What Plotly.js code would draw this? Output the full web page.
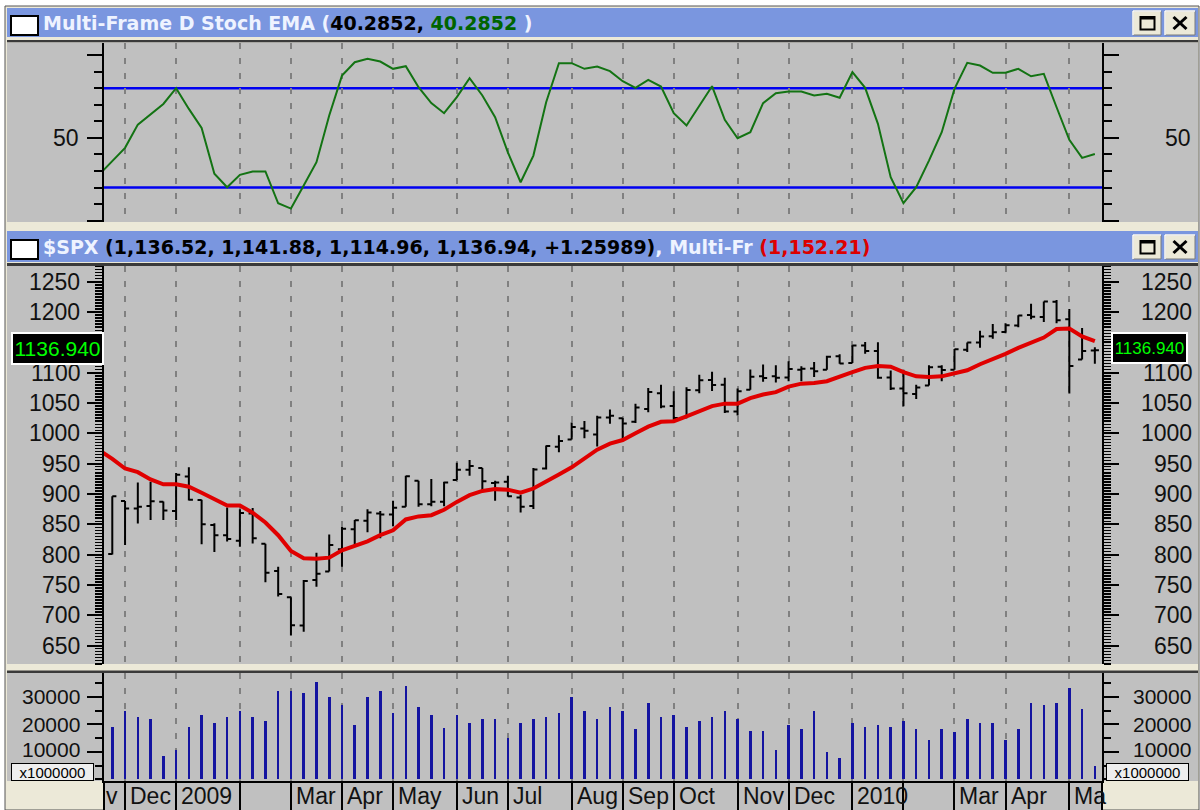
<!DOCTYPE html>
<html><head><meta charset="utf-8">
<script src="https://cdn.plot.ly/plotly-3.0.1.min.js"></script>
<style>html,body{margin:0;padding:0;background:#fff;}#chart{width:1200px;height:810px;}</style>
</head><body><div id="chart"></div>
<script>
// ---------- DATA (weekly, $SPX, weeks ending Nov 28 2008 .. May 21 2010) ----------
const opens  = [801,888.6,876,880,887,872,929,890,849,832,823,868,818,773,729.6,683,758,772,809,842,856,868,866,879,922,883,887,923,940,943,918,920,894,880,942,978,990,1008,998,1026,1025,1019,1040,1066,1045,1026,1071,1088,1080,1036,1072,1094,1094,1092,1105,1107,1105,1127,1116,1145,1136,1092,1074,1065,1079,1110,1105,1138,1150,1160,1167,1178,1195,1192,1217,1188,1122,1136.52];
const highs  = [896.2,888.6,918.9,920,887.4,934.7,943.9,890.4,851.6,877.9,875,877,818,780,729.6,758.3,803,833,845.6,856.9,875,871.8,888.7,930.2,922,924.6,920,951.7,956.2,943,922,930.2,898.7,943,979.8,996.7,1018,1020.4,1029,1039.5,1025.2,1049,1074.8,1080.2,1069.6,1076,1096.6,1101.4,1091.8,1074,1105.4,1113.7,1112.4,1119.1,1110.7,1117.7,1128,1130.4,1145.4,1150.5,1150.4,1103.7,1104.7,1080,1112.4,1112.3,1139,1150,1169.2,1180.2,1181.4,1194.7,1213.9,1217.3,1219.8,1205,1173.6,1141.88];
const lows   = [800,815.7,851.4,857,857.1,857,889.4,817,804.3,821.7,812.9,818.4,754.3,731,666.8,672.9,747,772,779.8,814.5,836.9,826.8,847,878.9,878.9,879.6,879.6,923,930,903.8,888.9,896,869.3,875.3,940.2,968.7,990,992,978.5,1016,991,1017,1035,1041.2,1020,1025,1066,1070,1033.4,1029.4,1072,1085,1083.7,1086,1085.9,1093,1105,1114.8,1116,1131.4,1090.2,1071.6,1044.5,1056.5,1079,1086,1105,1134,1141,1156,1165,1175,1188,1183.7,1181.6,1065.8,1122,1114.96];
const closes = [896.2,876.1,879.1,887.9,872.8,931.8,890.4,850.1,832,825.9,868.6,826.8,770.1,735.1,683.4,756.6,768.5,815.9,842.5,856.6,869.6,866.2,877.5,929.2,882.9,887,919.1,940.1,946.2,921.2,918.9,896.4,879.1,940.4,979.3,987.5,1010.5,1004.1,1026.1,1028.9,1016.4,1042.7,1068.3,1044.4,1025.2,1071.5,1087.7,1079.6,1036.2,1069.3,1093.5,1091.4,1091.5,1106,1106.4,1102.5,1126.5,1115.1,1145,1136,1091.8,1073.9,1066.2,1075.5,1109.2,1104.5,1138.7,1150,1159.9,1166.6,1178.1,1194.4,1192.1,1217.3,1186.7,1110.9,1135.7,1136.94];
const volumes = [19150,24900,22700,22100,8540,10600,19150,23500,20600,22700,24900,22700,21350,32000,32000,31350,35600,29900,27100,19900,29900,32000,24150,34150,26350,23500,18550,23500,20600,22100,22100,14900,20600,22100,22700,24300,29900,24900,22100,26350,24900,18400,27800,22700,23400,19150,21350,22700,24900,21950,17700,17700,10600,19900,18400,24900,9900,7800,20600,19150,19900,19150,21350,18400,14150,18400,17100,21950,20600,20600,14150,18400,27800,27100,27800,33400,25600,4900];
// indicator series start one week earlier (week ending Nov 21 2008, clipped at left edge)
const multiFrameEma = [972,958,942,936,924,916,916,912,902,892,881,881,869,853,832,806,794,793,795,807,814,822,832,840,858,863,865,874,887,898,905,908,907,902,909,920,932,944,959,973,983,989,1000,1011,1019,1020,1028,1037,1045,1049,1049,1058,1064,1068,1077,1082,1083,1086,1094,1101,1108,1111,1110,1101,1094,1093,1094,1099,1104,1114,1122,1131,1141,1150,1158,1172,1173,1160,1152.21];
const stochD = [28,36,44,58,64,70.5,80,67.5,56,28.3,20.2,27.7,29.7,29.7,10.5,7.3,21.2,35.3,63.5,87.6,95.7,97.7,96.1,91.7,93.3,80.6,71,64.9,74.6,86,75.6,62.5,41.3,23.2,39.3,71.5,95.1,95.1,91.7,93.1,90.3,84.2,80.2,85,81,64.9,57.5,69.5,81.2,60.9,49.8,53.4,71,77,78,78,75.6,76.6,74.2,89.7,80.2,58.5,26.3,10.6,20.2,36.3,53.4,79.6,95.3,93.7,89.3,89.3,91.7,87.2,88.7,68.5,48.8,37.9,40.2852];
const stochLevels = [80, 20];
// month separators (week index) and their labels
const monthIdx    = [2,6,11,15,19,23,28,32,37,41,45,50,54,59,63,67,71,76];
const monthLabels = ['Dec','2009','','Mar','Apr','May','Jun','Jul','Aug','Sep','Oct','Nov','Dec','2010','','Mar','Apr','Ma'];
const firstLabel = 'v';
const priceTicks = [650,700,750,800,850,900,950,1000,1050,1100,1150,1200,1250];
const volTicks = [10000,20000,30000];
const stochTicks = [50];
const lastPrice = 1136.94;

// ---------- helpers ----------
const W = 1200, H = 810;
const px = x => x / W, py = y => 1 - y / H;
function rect(x0, y0, x1, y1, fill, lc, lw) {
  return {type:'rect', xref:'paper', yref:'paper', x0:px(x0), x1:px(x1), y0:py(y1), y1:py(y0),
          fillcolor:fill, line:{color:lc || fill, width:lw || 0}, layer:'below'};
}
function seg(x0, y0, x1, y1, color, w) {
  return {type:'line', xref:'paper', yref:'paper', x0:px(x0), x1:px(x1), y0:py(y0), y1:py(y1),
          line:{color:color, width:w}, layer:'below'};
}
const idx0 = stochD.map((_, i) => i);
const idx1 = closes.map((_, i) => i + 1);

const GRAY = '#C0C0C0', BEIGE = '#ECE9D8', BAR = '#7A96DF';
const shapes = [];
shapes.push(rect(5, 6, 1199, 810, BEIGE, '#555', 1));
shapes.push(rect(7, 8, 1198, 37, BAR));
shapes.push(rect(7, 40, 1198, 42.5, '#3A3A3A'));
shapes.push(rect(7, 42.5, 1198, 222, GRAY));
shapes.push(rect(7, 231, 1198, 262, BAR));
shapes.push(rect(7, 263, 1198, 266, '#3A3A3A'));
shapes.push(rect(7, 266, 1198, 664, GRAY));
shapes.push(rect(7, 670.5, 1198, 673, '#3A3A3A'));
shapes.push(rect(7, 673, 1198, 781, GRAY));
shapes.push(rect(104, 781, 1102, 810, GRAY));
shapes.push(seg(104, 781, 104, 810, '#000', 2));
shapes.push(seg(1102, 781, 1102, 810, '#000', 2));
[0, 224].forEach(dy => {
  shapes.push(rect(11, 16 + dy, 38, 35 + dy, '#FFFFFF', '#000', 2));
  shapes.push(rect(1133, 11 + dy, 1161, 35 + dy, BEIGE, '#7A7A7A', 1));
  shapes.push(seg(1133, 11 + dy, 1161, 11 + dy, '#FFFFFF', 1.5));
  shapes.push(seg(1133, 11 + dy, 1133, 35 + dy, '#FFFFFF', 1.5));
  shapes.push(rect(1140.5, 17 + dy, 1154.5, 29.5 + dy, 'rgba(0,0,0,0)', '#000', 2));
  shapes.push(seg(1140.5, 18 + dy, 1154.5, 18 + dy, '#000', 3));
  shapes.push(rect(1165, 11 + dy, 1195, 35 + dy, BEIGE, '#7A7A7A', 1));
  shapes.push(seg(1165, 11 + dy, 1195, 11 + dy, '#FFFFFF', 1.5));
  shapes.push(seg(1165, 11 + dy, 1165, 35 + dy, '#FFFFFF', 1.5));
  shapes.push(seg(1173.5, 17 + dy, 1186.5, 29 + dy, '#000', 3));
  shapes.push(seg(1186.5, 17 + dy, 1173.5, 29 + dy, '#000', 3));
});
stochLevels.forEach(v => shapes.push({type:'line', xref:'x domain', yref:'y', x0:0, x1:1, y0:v, y1:v,
  line:{color:'#0000F0', width:2.5}, layer:'below'}));

// ---------- annotations ----------
const LIGHT = '#EEF3FF';
const ann = [];
ann.push({xref:'paper', yref:'paper', x:px(41), y:py(23), xanchor:'left', yanchor:'middle', showarrow:false,
  font:{family:'DejaVu Sans, Verdana, sans-serif', size:19, color:'#000'},
  text:'<b><span style="color:' + LIGHT + '">Multi-Frame D Stoch EMA (</span>40.2852, <span style="color:#006400">40.2852</span><span style="color:' + LIGHT + '"> )</span></b>'});
ann.push({xref:'paper', yref:'paper', x:px(41), y:py(247), xanchor:'left', yanchor:'middle', showarrow:false,
  font:{family:'DejaVu Sans, Verdana, sans-serif', size:19, color:'#000'},
  text:'<b><span style="color:' + LIGHT + '">$SPX</span> (1,136.52, 1,141.88, 1,114.96, 1,136.94, +1.25989)<span style="color:' + LIGHT + '">, Multi-Fr </span><span style="color:#DD0000">(1,152.21)</span></b>'});
const AXF = {family:'Liberation Sans, Arial, sans-serif', size:23, color:'#111'};
const VOLF = {family:'Liberation Sans, Arial, sans-serif', size:21, color:'#111'};
function axisLabels(vals, yref, leftX, rightX) {
  vals.forEach(v => {
    if (yref === 'y2' && Math.abs(v - lastPrice) < 20) return; // hidden behind the last-value boxes
    const isVol = yref === 'y3';
    const ys = (isVol && v === vals[0]) ? 2 : 0;
    const f = isVol ? VOLF : AXF;
    ann.push({xref:'paper', yref:yref, x:px(leftX), y:v, yshift:ys, xanchor:'right', yanchor:'middle', showarrow:false, borderpad:0, font:f, text:String(v)});
    ann.push({xref:'paper', yref:yref, x:px(rightX), y:v, yshift:ys, xanchor:'right', yanchor:'middle', showarrow:false, borderpad:0, font:f, text:String(v)});
  });
}
axisLabels(priceTicks, 'y2', 81, 1193);
axisLabels(stochTicks, 'y', 80, 1192);
axisLabels(volTicks, 'y3', 81, 1192);
ann.push({xref:'paper', yref:'paper', x:px(104), y:py(796), xanchor:'left', yanchor:'middle', showarrow:false, font:AXF, text:firstLabel});
monthIdx.forEach((m, k) => { if (monthLabels[k]) ann.push({xref:'x', yref:'paper', x:m, xshift:3, y:py(796), xanchor:'left', yanchor:'middle', showarrow:false, font:AXF, text:monthLabels[k]}); });
ann.push({xref:'paper', yref:'y2', x:px(57.5), y:lastPrice, yshift:2, xanchor:'center', yanchor:'middle', showarrow:false,
  width:87, height:27, bgcolor:'#000', bordercolor:'#FFFFFF', borderwidth:2, borderpad:1,
  font:{family:'Liberation Sans, Arial, sans-serif', size:21, color:'#00FF00'}, text:lastPrice.toFixed(3)});
ann.push({xref:'paper', yref:'y2', x:px(1149.5), y:lastPrice, yshift:2, xanchor:'center', yanchor:'middle', showarrow:false,
  width:71, height:26, bgcolor:'#000', bordercolor:'#FFFFFF', borderwidth:2, borderpad:1,
  font:{family:'Liberation Sans, Arial, sans-serif', size:17, color:'#00FF00'}, text:lastPrice.toFixed(3)});
[[52.5, 772], [1147.5, 772]].forEach(p => ann.push({xref:'paper', yref:'paper', x:px(p[0]), y:py(p[1]), xanchor:'center', yanchor:'middle', showarrow:false,
  width:79, height:14, bgcolor:'#EEEEEE', bordercolor:'#000', borderwidth:1, borderpad:1,
  font:{family:'Liberation Sans, Arial, sans-serif', size:15, color:'#000'}, text:'x1000000'}));

// ---------- traces ----------
const traces = [
  {type:'scatter', mode:'lines', x:idx0, y:stochD, xaxis:'x', yaxis:'y', line:{color:'#137313', width:2}, hoverinfo:'skip'},
  {type:'ohlc', x:idx1, open:opens, high:highs, low:lows, close:closes, xaxis:'x2', yaxis:'y2', tickwidth:0.32,
   increasing:{line:{color:'#000', width:2}}, decreasing:{line:{color:'#000', width:2}}, hoverinfo:'skip'},
  {type:'scatter', mode:'lines', x:idx0, y:multiFrameEma, xaxis:'x2', yaxis:'y2', line:{color:'#E00000', width:4}, hoverinfo:'skip'},
  {type:'bar', x:idx1, y:volumes, xaxis:'x3', yaxis:'y3', width:0.2, marker:{color:'#1414A0', line:{width:0}}, hoverinfo:'skip'}
];

const xd = [104 / W, 1102 / W];
const xbase = {domain:xd, tickmode:'array', tickvals:monthIdx, showticklabels:false, ticks:'', showgrid:true,
  gridcolor:'#808080', griddash:'6px,9px', gridwidth:2, zeroline:false, showline:false, rangeslider:{visible:false}, fixedrange:true};
const ybase = {showline:true, linecolor:'#000', linewidth:2, mirror:'allticks', ticks:'outside', ticklen:15, tickwidth:2,
  tickcolor:'#000', showgrid:false, zeroline:false, showticklabels:false, fixedrange:true};

const layout = {
  width:W, height:H, margin:{l:0, r:0, t:0, b:0}, paper_bgcolor:'#FFFFFF', plot_bgcolor:GRAY,
  showlegend:false, hovermode:false, bargap:0,
  xaxis:Object.assign({}, xbase, {anchor:'y', range:[0.35, 78.56]}),
  xaxis2:Object.assign({}, xbase, {anchor:'y2', matches:'x'}),
  xaxis3:Object.assign({}, xbase, {anchor:'y3', matches:'x', ticks:'outside', ticklen:28, tickwidth:2, tickcolor:'#000',
    showline:true, linecolor:'#000', linewidth:2}),
  yaxis:Object.assign({}, ybase, {domain:[1 - 222 / H, 1 - 42.5 / H], range:[-0.8, 107.6], tickmode:'array', tickvals:[0, 50, 100],
    minor:{tickmode:'array', tickvals:[10,20,30,40,60,70,80,90], ticks:'outside', ticklen:8, tickwidth:2, tickcolor:'#000'}}),
  yaxis2:Object.assign({}, ybase, {domain:[1 - 664 / H, 1 - 266 / H], range:[619.6, 1276], tickmode:'array', tickvals:priceTicks,
    minor:{dtick:5, tick0:0, ticks:'outside', ticklen:7, tickwidth:1.5, tickcolor:'#000'}}),
  yaxis3:Object.assign({}, ybase, {domain:[1 - 781 / H, 1 - 673 / H], range:[-625, 38713], tickmode:'array', tickvals:volTicks,
    minor:{dtick:5000, tick0:0, ticks:'outside', ticklen:7, tickwidth:2, tickcolor:'#000'}}),
  shapes:shapes, annotations:ann
};
Plotly.newPlot('chart', traces, layout, {staticPlot:true, displayModeBar:false});
</script></body></html>
